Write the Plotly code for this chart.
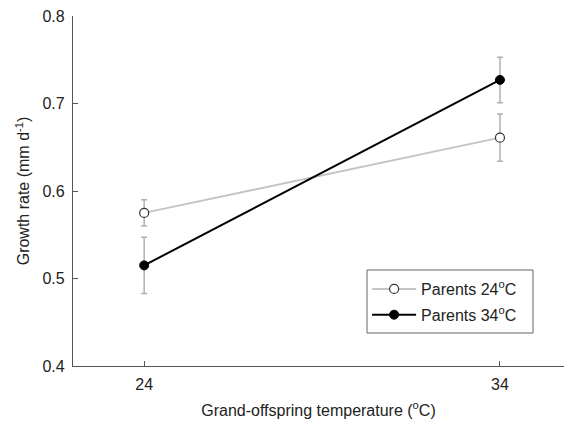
import plotly.graph_objects as go

# Grand-offspring temperatures (°C)
temps = [24, 34]

# Mean growth rate (mm d^-1) and standard errors per parental temperature
parents24_mean = [0.575, 0.661]
parents24_err = [0.015, 0.027]
parents34_mean = [0.515, 0.727]
parents34_err = [0.032, 0.026]

font_family = "Liberation Sans, Arial, sans-serif"

fig = go.Figure()

fig.add_trace(go.Scatter(
    x=temps, y=parents24_mean,
    mode="lines+markers",
    name="Parents 24<sup>o</sup>C",
    legendgroup="p24",
    line=dict(color="#c4c4c4", width=2),
    marker=dict(symbol="circle", size=9, color="white",
                line=dict(color="#333333", width=1.2)),
    error_y=dict(type="data", array=parents24_err, visible=True,
                 color="#b0b0b0", thickness=1.5, width=3),
))

fig.add_trace(go.Scatter(
    x=temps, y=parents34_mean,
    mode="lines+markers",
    name="Parents 34<sup>o</sup>C",
    legendgroup="p34",
    line=dict(color="black", width=2),
    marker=dict(symbol="circle", size=9, color="black",
                line=dict(color="black", width=1)),
    error_y=dict(type="data", array=parents34_err, visible=True,
                 color="#b0b0b0", thickness=1.5, width=3),
))

# Legend frame drawn as a shape so its padding can be set freely
fig.add_shape(
    type="rect", xref="paper", yref="paper",
    x0=0.5988, x1=0.9369, y0=0.0943, y1=0.2743,
    line=dict(color="#666666", width=1), fillcolor="white",
    layer="below",
)

fig.update_layout(
    width=564, height=424,
    margin=dict(l=73, r=0, t=16, b=58),
    paper_bgcolor="white", plot_bgcolor="white",
    font=dict(family=font_family, size=16, color="#222222"),
    showlegend=True,
    legend=dict(
        x=0.599, y=0.2686, xanchor="left", yanchor="top",
        bgcolor="rgba(0,0,0,0)", borderwidth=0,
        font=dict(size=16, color="#222222"),
        traceorder="grouped",
        itemwidth=44,
        tracegroupgap=2,
    ),
    xaxis=dict(
        range=[22, 35.8],
        tickvals=temps, ticktext=[str(t) for t in temps],
        ticks="inside", ticklen=5, tickcolor="#555555",
        showline=True, linecolor="#555555", linewidth=1.2,
        showgrid=False, zeroline=False,
        ticklabelstandoff=4,
        title=dict(text="Grand-offspring temperature (<sup>o</sup>C)",
                   font=dict(size=16), standoff=12),
        tickfont=dict(size=16),
    ),
    yaxis=dict(
        range=[0.4, 0.8],
        tickvals=[0.4, 0.5, 0.6, 0.7, 0.8],
        ticktext=["0.4", "0.5", "0.6", "0.7", "0.8"],
        ticks="inside", ticklen=5, tickcolor="#555555",
        showline=True, linecolor="#555555", linewidth=1.2,
        showgrid=False, zeroline=False,
        ticklabelstandoff=4,
        title=dict(text="Growth rate (mm d<sup>-1</sup>)",
                   font=dict(size=16), standoff=8),
        tickfont=dict(size=16),
    ),
)

fig.write_html("out.html")
